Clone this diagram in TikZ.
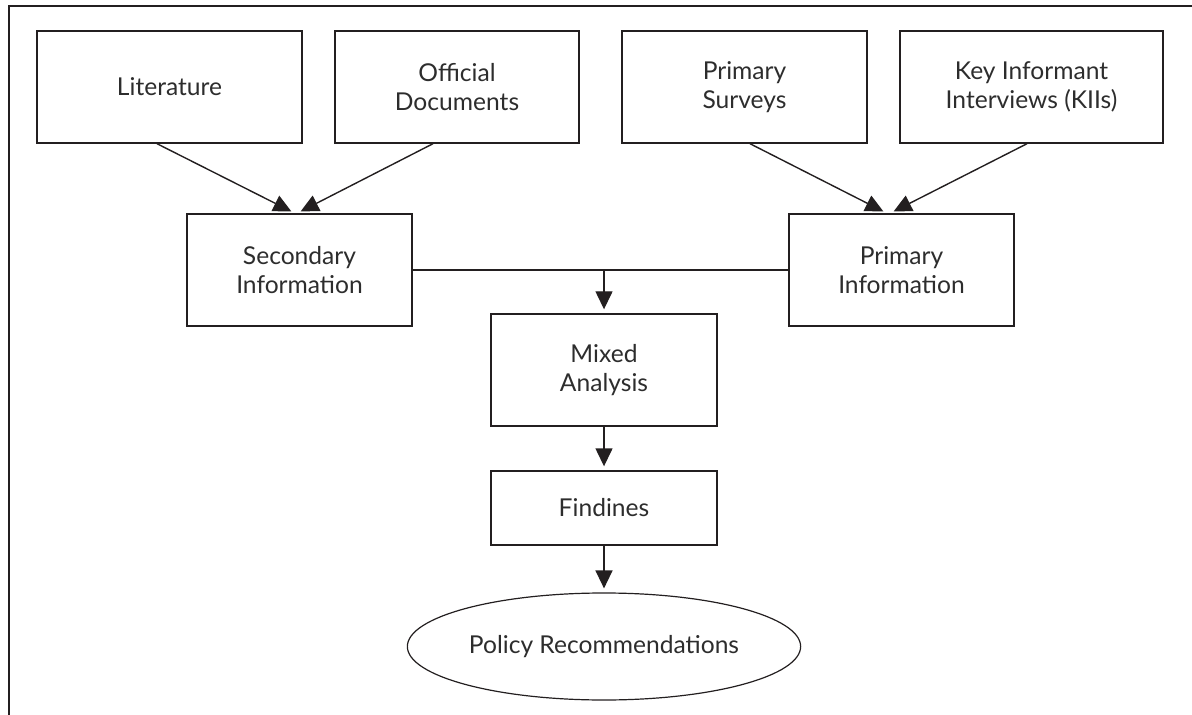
\documentclass[tikz,border=0pt]{standalone}
\usepackage{fontspec}
\setmainfont{Lato}
\usepackage{tikz}
\usetikzlibrary{shapes.geometric, arrows.meta, positioning}

\definecolor{linegray}{RGB}{35,31,32}
\definecolor{textgray}{RGB}{45,45,45}

\tikzset{
    box/.style={draw=linegray, line width=0.7pt, align=center, text=textgray,
        font=\fontsize{12.3}{14.2}\selectfont, inner sep=2pt},
    oval/.style={box, ellipse, line width=0.6pt},
    link/.style={draw=linegray, line width=0.7pt},
    arr/.style={link, -{Triangle[length=9pt, width=8.5pt]}, shorten >=2pt}
}

\begin{document}
\begin{tikzpicture}[x=0.5pt, y=-0.5pt]
    \useasboundingbox (0,0) rectangle (1192,715);

    % Frame
    \draw[draw=linegray, line width=0.9pt] (9,715) -- (9,6) -- (1192,6);

    % Sources
    \node[box, minimum width=132.5pt, minimum height=56pt] (lit) at (169.5,87) {Literature};
    \node[box, minimum width=122pt, minimum height=56pt] (off) at (457,87) {Official\\Documents};
    \node[box, minimum width=122.5pt, minimum height=56pt] (surv) at (744.5,87) {Primary\\Surveys};
    \node[box, minimum width=131.5pt, minimum height=56pt] (kii) at (1031.5,87) {Key Informant\\Interviews (KIIs)};

    % Information
    \node[box, minimum width=112.5pt, minimum height=56pt] (sec) at (299.5,270) {Secondary\\Information};
    \node[box, minimum width=112.5pt, minimum height=56pt] (pri) at (901.5,270) {Primary\\Information};

    % Analysis chain
    \node[box, minimum width=113pt, minimum height=56pt] (mix) at (604,370) {Mixed\\Analysis};
    \node[box, minimum width=113pt, minimum height=37pt] (fin) at (604,508) {Findines};
    \node[oval, minimum width=169pt, minimum height=53.5pt] (pol) at (604,646.5) {Policy Recommendations};

    % Arrows into information boxes
    \draw[arr] ([xshift=-6.25pt]lit.south) -- ([xshift=-2.25pt]sec.north);
    \draw[arr] ([xshift=-12pt]off.south) -- ([xshift=-1.25pt]sec.north);
    \draw[arr] ([xshift=2.75pt]surv.south) -- ([xshift=-7.25pt]pri.north);
    \draw[arr] ([xshift=-2.25pt]kii.south) -- ([xshift=-5.75pt]pri.north);

    % Join and downward flow
    \draw[link] (sec.east) -- (pri.west);
    \coordinate (join) at (sec.east -| mix.north);
    \draw[arr] (join) -- (mix.north);
    \draw[arr] (mix.south) -- (fin.north);
    \draw[arr] (fin.south) -- (pol.north);
\end{tikzpicture}
\end{document}
